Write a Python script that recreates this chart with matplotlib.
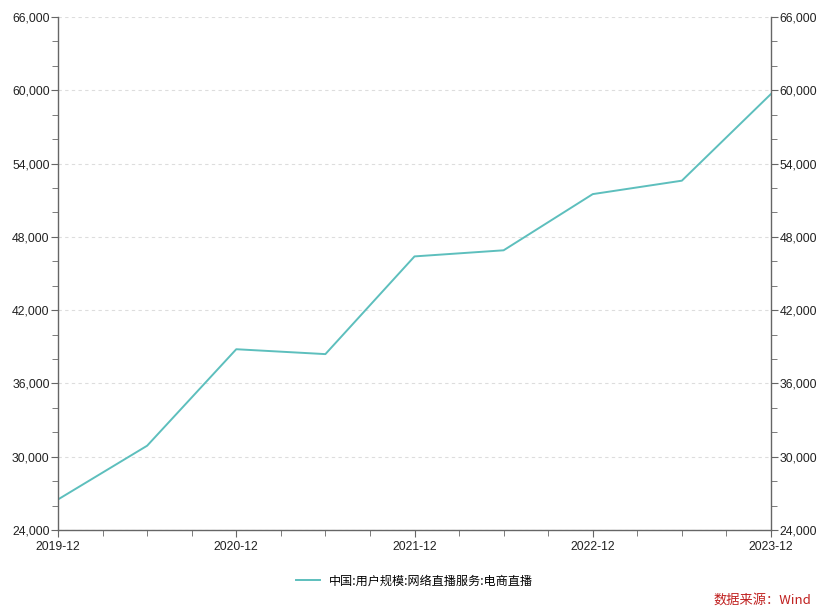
import matplotlib
matplotlib.use("Agg")
import matplotlib.pyplot as plt
from matplotlib.ticker import MultipleLocator, FuncFormatter

plt.rcParams['font.family'] = ['Liberation Sans', 'Noto Sans CJK SC', 'DejaVu Sans']

dates = ['2019-12', '2020-06', '2020-12', '2021-06', '2021-12',
         '2022-06', '2022-12', '2023-06', '2023-12']
values = [26500, 30900, 38800, 38400, 46400, 46900, 51500, 52600, 59700]
series_name = '中国:用户规模:网络直播服务:电商直播'
year_labels = ['2019-12', '2020-12', '2021-12', '2022-12', '2023-12']
source_text = '数据来源：Wind'

def months(d):
    y, m = d.split('-')
    return (int(y) - 2019) * 12 + int(m) - 12

x = [months(d) for d in dates]

fig = plt.figure(figsize=(8.3, 6.12), dpi=100)
ax = fig.add_axes([0.0699, 0.134, 0.859, 0.8382])
line_color = '#5dbfbd'
ax.plot(x, values, color=line_color, lw=1.4)

ax.set_xlim(0, 48)
ax.set_ylim(24000, 66000)
ax.set_xticks([months(d) for d in year_labels])
ax.set_xticklabels(year_labels)
ax.xaxis.set_minor_locator(MultipleLocator(3))
ax.yaxis.set_major_locator(MultipleLocator(6000))
ax.yaxis.set_minor_locator(MultipleLocator(2000))
fmt = FuncFormatter(lambda v, p: f'{int(v):,}')
ax.yaxis.set_major_formatter(fmt)

ax.grid(axis='y', which='major', color='#dddddd', ls=(0, (3, 3)), lw=0.8)
ax.spines['top'].set_visible(False)
for s in ['left', 'right', 'bottom']:
    ax.spines[s].set_color('#666666')
    ax.spines[s].set_linewidth(1.0)

ax.tick_params(axis='both', which='both', color='#666666', labelsize=8.8, labelcolor='#222222')
ax.tick_params(axis='both', which='major', length=5)
ax.tick_params(axis='both', which='minor', length=4)
ax.tick_params(axis='y', which='both', left=True, right=True, labelleft=True, labelright=True, pad=1)
ax.tick_params(axis='x', pad=3)

ax.legend([series_name], loc='upper center', bbox_to_anchor=(0.5, -0.065), frameon=False,
          handlelength=2.0, prop={'family': ['Noto Sans CJK SC', 'DejaVu Sans'], 'size': 8.7})
fig.text(0.977, 0.008, source_text, ha='right', va='bottom', color='#c0201f', fontsize=9.5,
         family=['Noto Sans CJK SC', 'DejaVu Sans'])

fig.savefig('out.png', dpi=100)
